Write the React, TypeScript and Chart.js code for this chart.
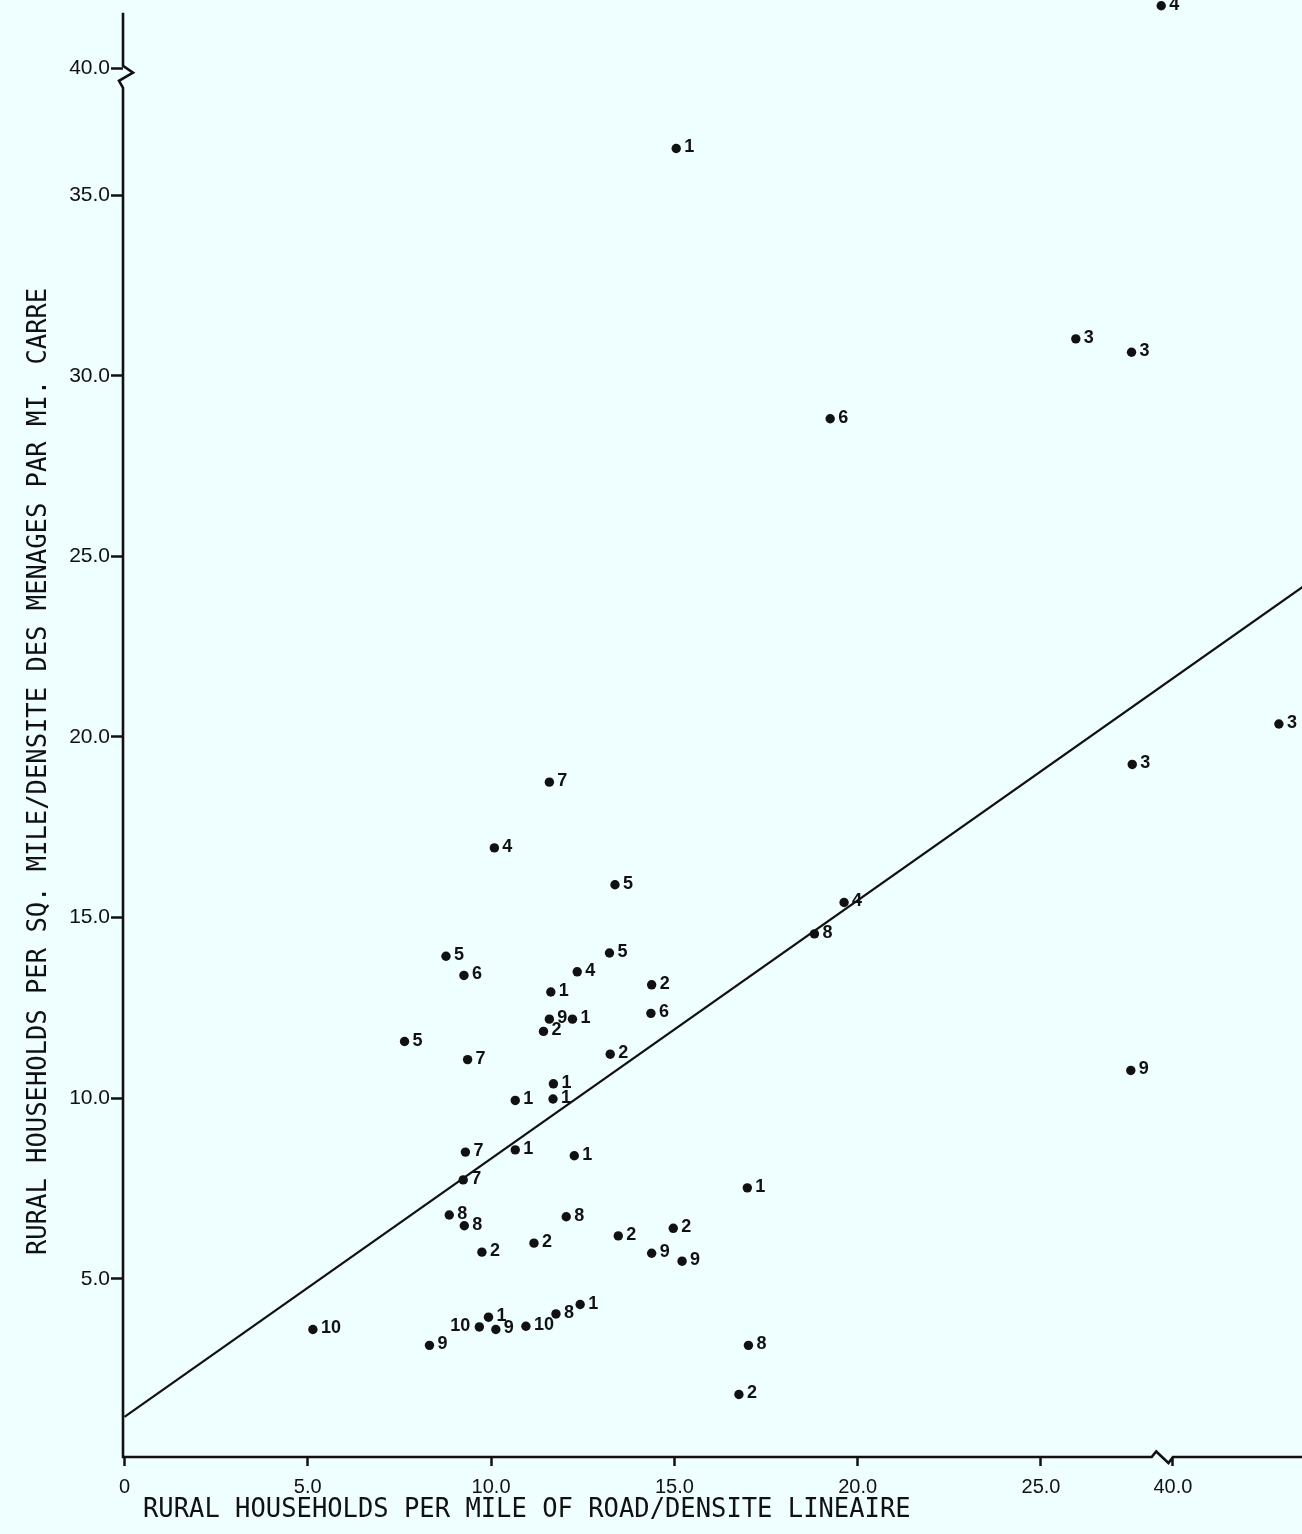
import React, { useEffect, useRef } from 'react';
import { Chart, registerables } from 'chart.js';

Chart.register(...registerables);

const groupLabels = ['1','3','3','6','4','3','3','9','7','4','5','4','8','5','5','6','4','2','1','9','1','2','6','5','7','2','1','1','1','7','1','1','7','1','8','8','8','2','2','2','2','9','9','10','9','10','1','9','10','8','1','8','2'];
const xValues = [15.05,25.95,27.47,19.25,39.68,42.89,27.49,27.45,11.59,10.09,13.38,19.63,18.82,13.23,8.77,9.26,12.35,14.38,11.63,11.59,12.22,11.43,14.36,7.64,9.36,13.25,11.70,10.66,11.69,9.30,10.66,12.27,9.24,16.99,8.86,9.27,12.05,9.75,11.17,13.47,14.97,14.38,15.21,5.14,8.32,9.68,9.93,10.13,10.95,11.77,12.43,17.02,16.76];
const yValues = [36.29,31.02,30.65,28.81,41.74,20.36,19.24,10.77,18.75,16.93,15.91,15.42,14.55,14.02,13.93,13.40,13.50,13.14,12.94,12.19,12.19,11.85,12.35,11.57,11.07,11.22,10.40,9.94,9.98,8.51,8.57,8.41,7.74,7.52,6.77,6.47,6.72,5.74,5.99,6.19,6.40,5.71,5.49,3.60,3.16,3.67,3.94,3.60,3.69,4.03,4.29,3.16,1.80];

// regression line end points (real units)
const regX = [0, 43.6];
const regY = [1.18, 24.2];

// tick values and labels
const xTickValues = [0, 5, 10, 15, 20, 25, 40];
const xTickLabels = ['0', '5.0', '10.0', '15.0', '20.0', '25.0', '40.0'];
const yTickValues = [5, 10, 15, 20, 25, 30, 35, 40];
const yTickLabels = ['5.0', '10.0', '15.0', '20.0', '25.0', '30.0', '35.0', '40.0'];

const xTitle = 'RURAL HOUSEHOLDS PER MILE OF ROAD/DENSITE LINEAIRE';
const yTitle = 'RURAL HOUSEHOLDS PER SQ. MILE/DENSITE DES MENAGES PAR MI. CARRE';

// axis breaks (real values at/after the break are shifted down)
const X_BREAK_REAL = 39.0;
const X_BREAK_SHIFT = 11.4;
const Y_BREAK_REAL = 39.0;
const Y_BREAK_SHIFT = 1.5;
const toDispX = (v: number) => (v >= X_BREAK_REAL ? v - X_BREAK_SHIFT : v);
const toDispY = (v: number) => (v >= Y_BREAK_REAL ? v - Y_BREAK_SHIFT : v);

// ---------- STYLE ----------
const INK = '#111111';
const BG = '#effefe';
const LEFT_LABEL_INDEXES = [45];
const X_BREAK_DISP = [28.02, 28.6];
const Y_BREAK_DISP = [37.97, 38.58];
const Y_AXIS_TOP_DISP = 40.05;

const zeroPad = (s: any) => {
  s.paddingTop = 0;
  s.paddingBottom = 0;
  s.paddingLeft = 0;
  s.paddingRight = 0;
};

const decorPlugin = {
  id: 'decor',
  afterDraw(chart: any) {
    const { ctx, chartArea, scales } = chart;
    const xs = scales.x;
    const ys = scales.y;
    ctx.save();
    ctx.strokeStyle = INK;
    ctx.fillStyle = INK;
    ctx.lineWidth = 2.6;
    ctx.lineJoin = 'miter';

    // y axis with break
    const ax = chartArea.left;
    const yLo = ys.getPixelForValue(Y_BREAK_DISP[0]);
    const yHi = ys.getPixelForValue(Y_BREAK_DISP[1]);
    ctx.beginPath();
    ctx.moveTo(ax, chartArea.bottom + 1);
    ctx.lineTo(ax, yLo);
    ctx.lineTo(ax - 4, yLo - 7);
    ctx.lineTo(ax + 10, yHi + 7);
    ctx.lineTo(ax, yHi);
    ctx.lineTo(ax, ys.getPixelForValue(Y_AXIS_TOP_DISP));
    ctx.stroke();

    // x axis with break
    const ay = chartArea.bottom;
    const xa = xs.getPixelForValue(X_BREAK_DISP[0]);
    const xb = xs.getPixelForValue(X_BREAK_DISP[1]);
    ctx.beginPath();
    ctx.moveTo(ax - 1, ay);
    ctx.lineTo(xa, ay);
    ctx.lineTo(xa + 4.5, ay - 5.5);
    ctx.lineTo(xb - 4.5, ay + 6);
    ctx.lineTo(xb, ay);
    ctx.lineTo(chartArea.right, ay);
    ctx.stroke();

    // axis titles
    ctx.font = '25.5px "DejaVu Sans Mono"';
    ctx.textAlign = 'left';
    ctx.textBaseline = 'alphabetic';
    ctx.save();
    ctx.translate(143, 1517);
    ctx.scale(1, 1.075);
    ctx.fillText(xTitle, 0, 0);
    ctx.restore();

    ctx.save();
    ctx.translate(46, 1255);
    ctx.rotate(-Math.PI / 2);
    ctx.scale(1, 1.075);
    ctx.fillText(yTitle, 0, 0);
    ctx.restore();

    // point labels
    const meta = chart.getDatasetMeta(0);
    ctx.font = 'bold 18px "Liberation Sans"';
    ctx.textBaseline = 'middle';
    meta.data.forEach((pt: any, i: number) => {
      const left = LEFT_LABEL_INDEXES.includes(i);
      ctx.textAlign = left ? 'right' : 'left';
      ctx.fillText(groupLabels[i], pt.x + (left ? -9 : 8), pt.y - 1);
    });
    ctx.restore();
  },
};

export default function App() {
  const ref = useRef<HTMLCanvasElement>(null);

  useEffect(() => {
    const canvas = ref.current;
    if (!canvas) return;
    const points = xValues.map((x, i) => ({ x: toDispX(x), y: toDispY(yValues[i]) }));
    const reg = regX.map((x, i) => ({ x: toDispX(x), y: toDispY(regY[i]) }));

    const chart = new Chart(canvas, {
      type: 'scatter',
      data: {
        datasets: [
          {
            data: points,
            pointRadius: 4.7,
            pointHoverRadius: 4.7,
            backgroundColor: INK,
            borderWidth: 0,
            clip: false as any,
          },
          {
            type: 'line' as any,
            data: reg,
            borderColor: INK,
            borderWidth: 2.2,
            pointRadius: 0,
            showLine: true,
            fill: false,
          } as any,
        ],
      },
      options: {
        responsive: false,
        maintainAspectRatio: false,
        animation: false,
        devicePixelRatio: 1,
        layout: { autoPadding: false, padding: { top: 0, left: 0, right: 0, bottom: 0 } } as any,
        plugins: {
          legend: { display: false },
          tooltip: { enabled: false },
          title: { display: false },
        },
        scales: {
          x: {
            type: 'linear',
            min: -0.04,
            max: 32.12,
            afterFit: (s: any) => { s.height = 77; zeroPad(s); },
            afterBuildTicks: (s: any) => {
              s.ticks = xTickValues.map((v) => ({ value: toDispX(v) }));
            },
            ticks: {
              autoSkip: false,
              maxRotation: 0,
              padding: 9,
              color: INK,
              font: { family: '"Liberation Sans"', size: 20 },
              callback: (_v: any, i: number) => xTickLabels[i],
            },
            grid: {
              drawOnChartArea: false,
              drawTicks: true,
              tickLength: 9,
              tickWidth: 2.5,
              tickColor: INK,
            },
            border: { display: false },
          },
          y: {
            type: 'linear',
            min: 0.07,
            max: 40.4,
            afterFit: (s: any) => { s.width = 123; zeroPad(s); },
            afterBuildTicks: (s: any) => {
              s.ticks = yTickValues.map((v) => ({ value: toDispY(v) }));
            },
            ticks: {
              autoSkip: false,
              padding: 1,
              color: INK,
              font: { family: '"Liberation Sans"', size: 21 },
              callback: (_v: any, i: number) => yTickLabels[i],
            },
            grid: {
              drawOnChartArea: false,
              drawTicks: true,
              tickLength: 12,
              tickWidth: 2.5,
              tickColor: INK,
            },
            border: { display: false },
          },
        },
      },
      plugins: [decorPlugin],
    });
    return () => chart.destroy();
  }, []);

  return (
    <div style={{ position: 'absolute', left: 0, top: 0, width: 1302, height: 1534, background: BG }}>
      <canvas ref={ref} width={1302} height={1534} style={{ display: 'block', width: 1302, height: 1534 }} />
    </div>
  );
}
